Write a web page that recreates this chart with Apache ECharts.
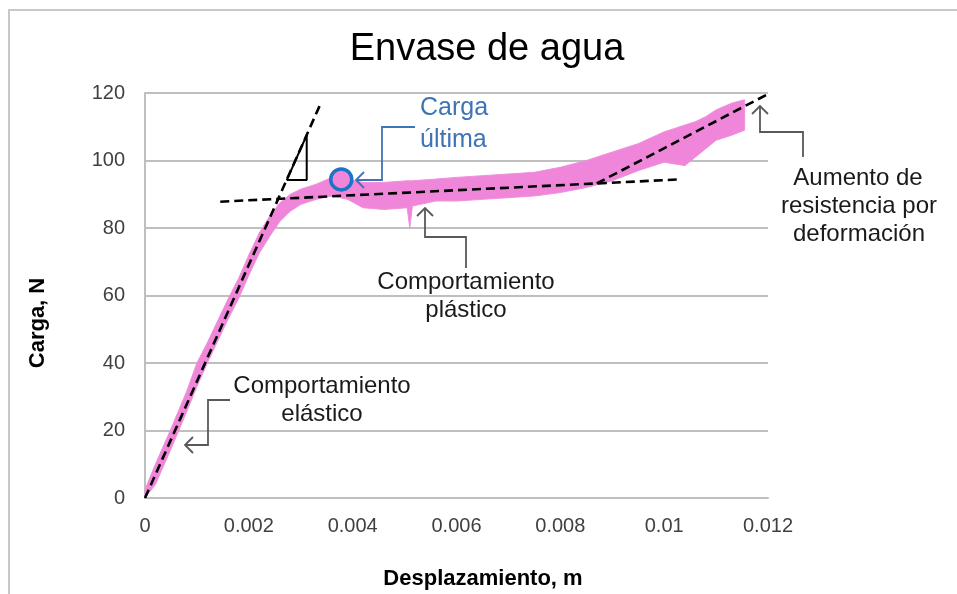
<!DOCTYPE html>
<html>
<head>
<meta charset="utf-8">
<script src="https://cdn.jsdelivr.net/npm/echarts@6/dist/echarts.min.js"></script>
<style>
html,body{margin:0;padding:0;background:#fff;}
#chart{width:957px;height:594px;}
</style>
</head>
<body>
<div id="chart"></div>
<script>
// ---- data ----
const xTicks = [0, 0.002, 0.004, 0.006, 0.008, 0.01, 0.012];
const yTicks = [0, 20, 40, 60, 80, 100, 120];

// measured load-displacement band (pink), upper and lower envelope
const dispX     = [0, 0.0002, 0.0005, 0.0008, 0.001, 0.0012, 0.0014, 0.0016, 0.0018, 0.002, 0.0022, 0.0024, 0.0026, 0.0028, 0.003, 0.0033, 0.0036, 0.0039, 0.0042, 0.0046, 0.00505, 0.0051, 0.00515, 0.0056, 0.006, 0.0065, 0.007, 0.0075, 0.008, 0.0085, 0.009, 0.0095, 0.01, 0.0102, 0.0104, 0.0106, 0.0108, 0.011, 0.0113, 0.01155];
const loadUpper = [2.5, 10, 20.5, 31.5, 40, 46, 52.5, 59, 65, 72, 78.5, 83.5, 87.5, 90, 91.5, 93, 95, 94.5, 93.5, 93.5, 94, 94, 94, 94.5, 95, 95.5, 96, 96.5, 98, 100, 102.5, 105, 108.5, 109.5, 110.5, 111.5, 113, 115, 117, 118];
const loadLower = [0, 4, 14.5, 25.5, 33, 40, 46.5, 53, 59, 66, 72.5, 77.5, 82, 85, 87, 88.5, 89.5, 88.5, 86, 85.5, 86, 80, 86.5, 88, 88, 88.5, 89, 89.5, 90.5, 92, 94, 97, 99.5, 99, 98.5, 101, 103.5, 106, 107.5, 109];

// dashed fit lines
const elasticX = [0, 0.00337];
const elasticY = [0, 116.4];
const plasticX = [0.00145, 0.0103];
const plasticY = [87.8, 94.4];
const hardenX  = [0.0087, 0.012];
const hardenY  = [93.2, 119.7];

// slope triangle
const triX = [0.00273, 0.003115, 0.003115, 0.00273];
const triY = [94.2, 94.2, 107.5, 94.2];

// ultimate load point
const ultX = [0.00378];
const ultY = [94.4];

const zip = (a, b) => a.map((v, i) => [v, b[i]]);

const chart = echarts.init(document.getElementById('chart'), null, {renderer: 'canvas'});

const FONT = '"Liberation Sans", Arial, sans-serif';

function chevron(tx, ty, dir) {
  const s = 8;
  if (dir === 'left') return [[tx + s, ty - s], [tx, ty], [tx + s, ty + s]];
  return [[tx - s, ty + s], [tx, ty], [tx + s, ty + s]];
}

function arrow(points, dir, color) {
  return [
    {type: 'polyline', shape: {points: points}, style: {stroke: color, lineWidth: 1.8, fill: null}, z: 50},
    {type: 'polyline', shape: {points: chevron(points[0][0], points[0][1], dir)}, style: {stroke: color, lineWidth: 1.8, fill: null}, z: 50}
  ];
}

function txt(text, x, y, opts) {
  opts = opts || {};
  return {
    type: 'text', x: x, y: y, z: 60,
    rotation: opts.rotation || 0,
    style: {
      text: text,
      font: opts.font || ('24px ' + FONT),
      fill: opts.fill || '#1a1a1a',
      align: opts.align || 'center',
      verticalAlign: 'middle'
    }
  };
}

const gray = '#595959';
const blue = '#3d74b5';

const graphics = [].concat(
  [{type: 'polyline', shape: {points: [[9, 600], [9, 10], [960, 10]]}, style: {stroke: '#c8c8c8', lineWidth: 2, fill: null}}],
  [txt('Envase de agua', 487, 50, {font: '38px ' + FONT, fill: '#000'})],
  [txt('Carga, N', 38, 323, {font: 'bold 22px ' + FONT, fill: '#000', rotation: Math.PI / 2})],
  [txt('Desplazamiento, m', 483, 579, {font: 'bold 22px ' + FONT, fill: '#000'})],
  arrow([[356, 180], [382, 180], [382, 127], [415, 127]], 'left', blue),
  [txt('Carga', 420, 108, {fill: blue, align: 'left', font: '25px ' + FONT}), txt('última', 420, 140, {fill: blue, align: 'left', font: '25px ' + FONT})],
  arrow([[425, 208], [425, 237], [466, 237], [466, 268]], 'up', gray),
  [txt('Comportamiento', 466, 282), txt('plástico', 466, 310)],
  arrow([[185, 445], [208, 445], [208, 400], [230, 400]], 'left', gray),
  [txt('Comportamiento', 322, 386), txt('elástico', 322, 414)],
  arrow([[760, 106], [760, 132], [803, 132], [803, 157]], 'up', gray),
  [txt('Aumento de', 858, 178), txt('resistencia por', 859, 206), txt('deformación', 859, 234)]
);

const dash = {color: '#000', width: 2.6, type: [9, 5]};

const option = {
  animation: false,
  backgroundColor: '#fff',
  grid: {left: 145, right: 189, top: 93, bottom: 96, containLabel: false},
  xAxis: {
    type: 'value', min: xTicks[0], max: xTicks[xTicks.length - 1], interval: 0.002,
    axisLine: {show: true, lineStyle: {color: '#bfbfbf', width: 2}},
    axisTick: {show: false},
    splitLine: {show: false},
    axisLabel: {
      margin: 18, color: '#404040', fontSize: 20, fontFamily: FONT,
      formatter: v => String(parseFloat(v.toFixed(4)))
    }
  },
  yAxis: {
    type: 'value', min: yTicks[0], max: yTicks[yTicks.length - 1], interval: 20,
    axisLine: {show: true, lineStyle: {color: '#bfbfbf', width: 2}},
    axisTick: {show: false},
    splitLine: {show: true, lineStyle: {color: '#bfbfbf', width: 2}},
    axisLabel: {margin: 20, color: '#404040', fontSize: 20, fontFamily: FONT}
  },
  series: [
    {
      type: 'custom',
      name: 'medido',
      z: 2,
      data: [[0, 0]],
      renderItem: function (params, api) {
        const pts = [];
        for (let i = 0; i < dispX.length; i++) pts.push(api.coord([dispX[i], loadUpper[i]]));
        for (let i = dispX.length - 1; i >= 0; i--) pts.push(api.coord([dispX[i], loadLower[i]]));
        return {type: 'polygon', shape: {points: pts}, style: {fill: '#ef86da', stroke: '#f08fdc', lineWidth: 1}};
      }
    },
    {type: 'line', data: zip(elasticX, elasticY), symbol: 'none', lineStyle: dash, z: 5},
    {type: 'line', data: zip(plasticX, plasticY), symbol: 'none', lineStyle: dash, z: 5},
    {type: 'line', data: zip(hardenX, hardenY), symbol: 'none', lineStyle: dash, z: 5},
    {type: 'line', data: zip(triX, triY), symbol: 'none', lineStyle: {color: '#000', width: 2, type: 'solid'}, z: 6},
    {
      type: 'scatter', data: zip(ultX, ultY), symbol: 'circle', symbolSize: 21, z: 7,
      itemStyle: {color: '#ef86da', borderColor: '#1f73c4', borderWidth: 3.5, opacity: 1}
    }
  ],
  graphic: graphics
};

chart.setOption(option);
</script>
</body>
</html>
